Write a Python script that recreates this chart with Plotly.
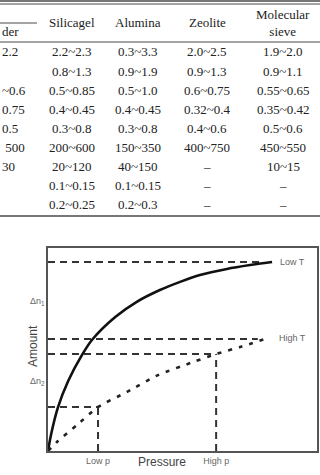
import plotly.graph_objects as go

W, H = 320, 475

# ---------------- table data ----------------
col_headers = ["der", "Silicagel", "Alumina", "Zeolite", "Molecular<br>sieve"]
powder = ["2.2", "", "~0.6", "0.75", "0.5", "\u00a0500", "30", "", ""]
silicagel = ["2.2~2.3", "0.8~1.3", "0.5~0.85", "0.4~0.45", "0.3~0.8", "200~600", "20~120", "0.1~0.15", "0.2~0.25"]
alumina = ["0.3~3.3", "0.9~1.9", "0.5~1.0", "0.4~0.45", "0.3~0.8", "150~350", "40~150", "0.1~0.15", "0.2~0.3"]
zeolite = ["2.0~2.5", "0.9~1.3", "0.6~0.75", "0.32~0.4", "0.4~0.6", "400~750", "–", "–", "–"]
sieve = ["1.9~2.0", "0.9~1.1", "0.55~0.65", "0.35~0.42", "0.5~0.6", "450~550", "10~15", "–", "–"]

# ---------------- isotherm data ----------------
lowT_p = [0, 0.012, 0.037, 0.075, 0.126, 0.164, 0.25, 0.33, 0.416, 0.491, 0.565, 0.665, 0.751, 0.833]
lowT_n = [0, 0.085, 0.215, 0.345, 0.472, 0.548, 0.66, 0.735, 0.793, 0.833, 0.867, 0.897, 0.916, 0.931]
highT_p = [0, 0.037, 0.108, 0.186, 0.294, 0.409, 0.539, 0.625, 0.714, 0.807]
highT_n = [0, 0.049, 0.128, 0.217, 0.291, 0.374, 0.438, 0.478, 0.512, 0.552]

low_p, high_p = 0.186, 0.625
lowT_hi_level, lowT_lo_level = 0.931, 0.552
highT_hi_level, highT_lo_level = 0.478, 0.217
top_line_end, mid_line_end = 0.79, 0.78

def px(x):
    return x / W

def py(y):
    return 1 - y / H

fig = go.Figure()

dash_style = dict(color="#333333", width=2, dash="7px,5px")

# reference dashed lines
fig.add_trace(go.Scatter(x=[0, top_line_end], y=[lowT_hi_level, lowT_hi_level], mode="lines", line=dash_style))
fig.add_trace(go.Scatter(x=[0, mid_line_end], y=[lowT_lo_level, lowT_lo_level], mode="lines", line=dash_style))
fig.add_trace(go.Scatter(x=[0, high_p], y=[highT_hi_level, highT_hi_level], mode="lines", line=dash_style))
fig.add_trace(go.Scatter(x=[0, low_p], y=[highT_lo_level, highT_lo_level], mode="lines", line=dash_style))
fig.add_trace(go.Scatter(x=[low_p, low_p], y=[0, highT_lo_level], mode="lines", line=dash_style))
fig.add_trace(go.Scatter(x=[high_p, high_p], y=[0, highT_hi_level], mode="lines", line=dash_style))

# isotherms
fig.add_trace(go.Scatter(x=lowT_p, y=lowT_n, mode="lines",
                         line=dict(color="#111111", width=2.6, shape="spline", smoothing=0.8)))
fig.add_trace(go.Scatter(x=highT_p, y=highT_n, mode="lines",
                         line=dict(color="#222222", width=2.6, shape="spline", smoothing=0.6, dash="4px,7px")))

ann = []
# table text
serif = dict(family="Liberation Serif, Times New Roman, serif", size=13, color="#222222")
col_x = [0, 72, 138, 207, 283]
row_y = [52 + 19.1 * i for i in range(9)]
for i, (cx, h) in enumerate(zip(col_x, col_headers)):
    yy = 32 if i == 0 else 22.5
    ann.append(dict(x=px(cx), y=py(yy), xref="paper", yref="paper", text=h, showarrow=False,
                    font=serif, xanchor="left" if i == 0 else "center", yanchor="middle"))
for i, (cx, col) in enumerate(zip(col_x, [powder, silicagel, alumina, zeolite, sieve])):
    for ry, v in zip(row_y, col):
        if v:
            ann.append(dict(x=px(cx), y=py(ry), xref="paper", yref="paper", text=v, showarrow=False,
                            font=serif, xanchor="left" if i == 0 else "center", yanchor="middle"))

sans_small = dict(family="Liberation Sans, Arial, sans-serif", size=9, color="#666666")
ann.append(dict(x=0.91, y=lowT_hi_level, xref="x", yref="y", text="Low T", showarrow=False,
                font=sans_small, xanchor="center", yanchor="middle"))
ann.append(dict(x=0.91, y=lowT_lo_level + 0.005, xref="x", yref="y", text="High T", showarrow=False,
                font=sans_small, xanchor="center", yanchor="middle"))
ann.append(dict(x=px(162), y=py(462), xref="paper", yref="paper", text="Pressure", showarrow=False,
                font=dict(family="Liberation Sans, Arial, sans-serif", size=12, color="#444444"),
                xanchor="center", yanchor="middle"))
ann.append(dict(x=px(33), y=py(346), xref="paper", yref="paper", text="Amount", showarrow=False,
                textangle=-90,
                font=dict(family="Liberation Sans, Arial, sans-serif", size=12, color="#444444"),
                xanchor="center", yanchor="middle"))

line_col = "#4a4a4a"
shapes = [
    dict(type="line", xref="paper", yref="paper", x0=0, x1=1, y0=py(1), y1=py(1), line=dict(color=line_col, width=1.5)),
    dict(type="line", xref="paper", yref="paper", x0=0, x1=1, y0=py(4), y1=py(4), line=dict(color=line_col, width=1)),
    dict(type="line", xref="paper", yref="paper", x0=0, x1=px(37), y0=py(23), y1=py(23), line=dict(color=line_col, width=1)),
    dict(type="line", xref="paper", yref="paper", x0=0, x1=1, y0=py(42), y1=py(42), line=dict(color=line_col, width=1)),
    dict(type="line", xref="paper", yref="paper", x0=0, x1=1, y0=py(216), y1=py(216), line=dict(color=line_col, width=1.5)),
]

fig.update_layout(
    width=W, height=H,
    margin=dict(l=0, r=0, t=0, b=0),
    paper_bgcolor="white", plot_bgcolor="white",
    showlegend=False,
    annotations=ann,
    shapes=shapes,
    xaxis=dict(domain=[px(48), px(317)], range=[0, 1], showgrid=False, zeroline=False,
               showline=True, mirror=True, linecolor="#555555", linewidth=1.5,
               tickvals=[low_p, high_p], ticktext=["Low p", "High p"], ticks="",
               tickfont=dict(family="Liberation Sans, Arial, sans-serif", size=9, color="#666666")),
    yaxis=dict(domain=[py(451), py(248)], range=[0, 1], showgrid=False, zeroline=False,
               showline=True, mirror=True, linecolor="#555555", linewidth=1.5,
               tickvals=[(lowT_hi_level + lowT_lo_level) / 2, (highT_hi_level + highT_lo_level) / 2],
               ticktext=["Δn<sub>1</sub>", "Δn<sub>2</sub>"], ticks="",
               tickfont=dict(family="Liberation Sans, Arial, sans-serif", size=9, color="#666666")),
)

fig.write_html("out.html")
